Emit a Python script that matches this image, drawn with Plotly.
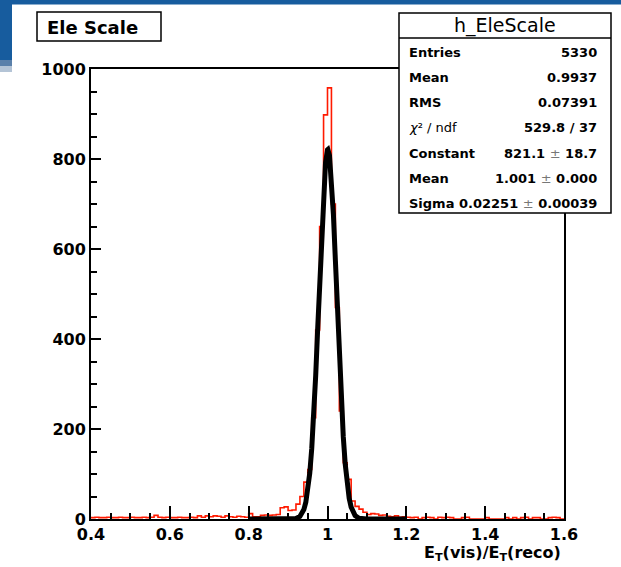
import numpy as np
import plotly.graph_objects as go

# ---------------- data ----------------
bin_low = 0.40
bin_width = 0.01
red_counts = [
    3, 4, 3, 3, 4, 3, 3, 4, 3, 3, 4, 3, 3, 4, 3, 4,      # 0.40-0.55
    8, 4,                                                # 0.56-0.57
    3, 4, 3, 3, 4, 3, 3, 4, 3,                           # 0.58-0.66
    7, 4, 7, 5, 7, 6, 4, 7, 5, 4, 6, 5, 4,               # 0.67-0.79
    12, 5, 5, 8, 9, 8, 9, 10,                            # 0.80-0.87
    25, 27, 19, 20, 33, 50, 82,                          # 0.88-0.94
    110, 225, 420, 650, 898, 958, 700, 470, 240, 125,    # 0.95-1.04
    88, 40, 28, 22, 15, 10, 12, 11, 8, 9, 6, 5, 7, 4, 5, # 1.05-1.19
    4, 3, 4, 0, 3, 4, 3, 0, 4, 3,                        # 1.20-1.29
    4, 3, 0, 0, 3, 4, 0, 0, 0, 0,                        # 1.30-1.39
    3, 0, 0, 0, 0, 3, 0, 3, 0, 3,                        # 1.40-1.49
    4, 0, 3, 3, 0, 0, 3, 4, 3, 0,                        # 1.50-1.59
]

fit_x = [0.80, 0.90, 0.92, 0.930, 0.935, 0.940, 0.945, 0.950, 0.955, 0.960,
         0.965, 0.970, 0.975, 0.980, 0.985, 0.990, 0.995, 1.000, 1.001, 1.005,
         1.010, 1.015, 1.020, 1.025, 1.030, 1.035, 1.040, 1.045, 1.050, 1.055,
         1.060, 1.065, 1.070, 1.080, 1.10, 1.20]
fit_y = [0.0, 0.1, 1.3, 5.7, 11.2, 20.9, 37.2, 63.1, 101.8, 156.3,
         228.6, 318.1, 421.4, 531.4, 637.8, 728.7, 792.4, 820.3, 821.1, 808.2,
         758.0, 676.7, 575.0, 465.1, 358.1, 262.4, 183.0, 121.5, 76.8, 46.2,
         26.5, 14.4, 7.5, 1.7, 0.1, 0.0]

x_tick_vals = [0.4, 0.6, 0.8, 1.0, 1.2, 1.4, 1.6]
x_tick_text = ["0.4", "0.6", "0.8", "1", "1.2", "1.4", "1.6"]
y_tick_vals = [0, 200, 400, 600, 800, 1000]
y_tick_text = ["0", "200", "400", "600", "800", "1000"]

title_text = "Ele Scale"
stats_title = "h_EleScale"
stat_labels = ["Entries", "Mean", "RMS", "<i>χ</i>² / ndf", "Constant", "Mean", "Sigma"]
stat_values = ["5330", "0.9937", "0.07391", "529.8 / 37",
               "821.1 ± 18.7", "1.001 ± 0.000", "0.02251 ± 0.00039"]
x_title = "E<sub>T</sub>(vis)/E<sub>T</sub>(reco)"

# ---------------- geometry ----------------
W, H = 621, 567
L, R, T, B = 91, 57, 69, 48
PW, PH = W - L - R, H - T - B


def px(x):
    return (x - L) / PW


def py(y):
    return (H - B - y) / PH


edges = bin_low + bin_width * np.arange(len(red_counts) + 1)
hx = list(edges)
hy = list(red_counts) + [red_counts[-1]]

fig = go.Figure()
fig.add_trace(go.Scatter(x=hx, y=hy, mode="lines", line_shape="hv",
                         line=dict(color="#ff1a00", width=1.6),
                         hoverinfo="skip", showlegend=False))
fig.add_trace(go.Scatter(x=fit_x, y=fit_y, mode="lines",
                         line=dict(color="black", width=5),
                         hoverinfo="skip", showlegend=False))

tickfont = dict(family="DejaVu Sans", size=16, color="black", weight="bold")
fig.update_xaxes(range=[0.4, 1.6], showgrid=False, zeroline=False,
                 showline=True, linecolor="black", linewidth=2, mirror=True,
                 ticks="inside", ticklen=13, tickwidth=1.5, tickcolor="black",
                 tickvals=x_tick_vals, ticktext=x_tick_text, tickfont=tickfont,
                 minor=dict(ticks="inside", dtick=0.05, tick0=0.4, ticklen=6,
                            tickwidth=1.5, tickcolor="black"))
fig.update_yaxes(range=[0, 1000], showgrid=False, zeroline=False,
                 showline=True, linecolor="black", linewidth=2, mirror=True,
                 ticks="inside", ticklen=10, tickwidth=1.5, tickcolor="black",
                 tickvals=y_tick_vals, ticktext=y_tick_text, tickfont=tickfont,
                 minor=dict(ticks="inside", dtick=50, tick0=0, ticklen=6,
                            tickwidth=1.5, tickcolor="black"))

blue = "#175c9e"
shapes = [
    dict(type="rect", xref="paper", yref="paper", x0=px(0), x1=px(W), y0=py(4.5), y1=py(0),
         fillcolor=blue, line_width=0, layer="above"),
    dict(type="rect", xref="paper", yref="paper", x0=px(0), x1=px(12), y0=py(60), y1=py(0),
         fillcolor=blue, line_width=0, layer="above"),
    dict(type="rect", xref="paper", yref="paper", x0=px(0), x1=px(12), y0=py(66), y1=py(60),
         fillcolor="#5a80aa", line_width=0, layer="above"),
    dict(type="rect", xref="paper", yref="paper", x0=px(0), x1=px(12), y0=py(72), y1=py(66),
         fillcolor="#b4c4d6", line_width=0, layer="above"),
    # title box
    dict(type="rect", xref="paper", yref="paper", x0=px(37), x1=px(161), y0=py(41), y1=py(12),
         fillcolor="white", line=dict(color="black", width=1.5), layer="above"),
    # stats box
    dict(type="rect", xref="paper", yref="paper", x0=px(399), x1=px(611), y0=py(213), y1=py(13),
         fillcolor="white", line=dict(color="black", width=1.5), layer="above"),
    dict(type="line", xref="paper", yref="paper", x0=px(399), x1=px(611), y0=py(38), y1=py(38),
         line=dict(color="black", width=1.5), layer="above"),
]

annotations = [
    dict(text="<b>" + title_text + "</b>", x=px(45), y=py(27), xref="paper", yref="paper",
         xanchor="left", yanchor="middle", showarrow=False,
         font=dict(family="DejaVu Sans", size=18, color="black")),
    dict(text=stats_title, x=px(505), y=py(25.5), xref="paper", yref="paper",
         xanchor="center", yanchor="middle", showarrow=False,
         font=dict(family="DejaVu Sans", size=19, color="black")),
    dict(text="<b>" + x_title + "</b>", x=px(563), y=py(553), xref="paper", yref="paper",
         xanchor="right", yanchor="middle", showarrow=False,
         font=dict(family="DejaVu Sans", size=16, color="black")),
]
row_y = [52, 77, 102, 127, 153, 178, 203.5]
for lab, val, yy in zip(stat_labels, stat_values, row_y):
    is_chi = "ndf" in lab
    annotations.append(dict(
        text=lab if is_chi else "<b>" + lab + "</b>",
        x=px(407), y=py(yy), xref="paper", yref="paper",
        xanchor="left", yanchor="middle", showarrow=False,
        font=dict(family="DejaVu Sans", size=13, color="black")))
    vtxt = val.replace("±", "</b><span style='color:#777'>±</span><b>")
    annotations.append(dict(
        text="<b>" + vtxt + "</b>",
        x=px(599), y=py(yy), xref="paper", yref="paper",
        xanchor="right", yanchor="middle", showarrow=False,
        font=dict(family="DejaVu Sans", size=13, color="black")))

fig.update_layout(width=W, height=H, margin=dict(l=L, r=R, t=T, b=B, pad=0),
                  paper_bgcolor="white", plot_bgcolor="white",
                  shapes=shapes, annotations=annotations, showlegend=False)

fig.write_html("out.html")
